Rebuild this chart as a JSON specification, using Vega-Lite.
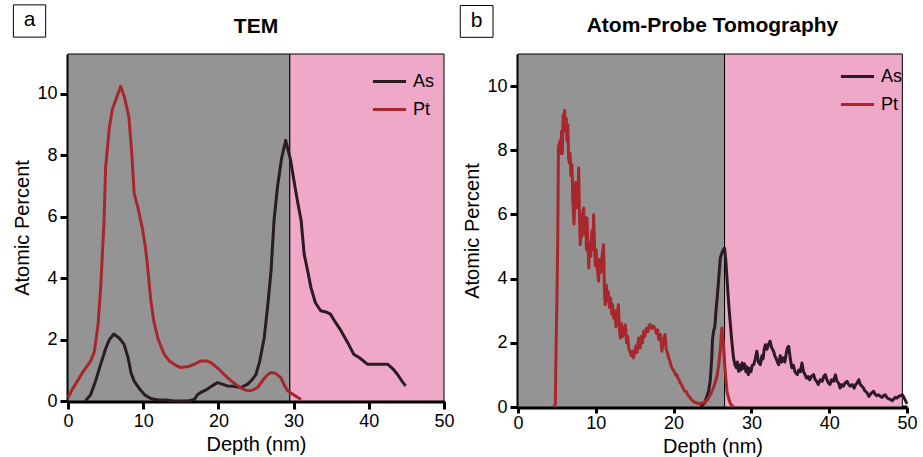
{
  "$schema": "https://vega.github.io/schema/vega-lite/v6.json",
  "background": "white",
  "padding": {"left": 12, "top": 4, "right": 5, "bottom": 5},
  "spacing": 74,
  "bounds": "flush",
  "config": {
    "font": "Liberation Sans",
    "view": {"stroke": null},
    "axis": {
      "grid": false,
      "domainColor": "black",
      "domainWidth": 4,
      "tickColor": "black",
      "tickWidth": 3,
      "tickSize": 8,
      "labelFontSize": 18,
      "labelColor": "black",
      "labelPadding": 3,
      "labelFlush": false,
      "titleFontSize": 20,
      "titleFontWeight": "normal",
      "titleColor": "black",
      "titlePadding": 4
    },
    "legend": {
      "orient": "top-right",
      "offset": 9,
      "padding": 0,
      "title": null,
      "symbolType": "stroke",
      "symbolSize": 1100,
      "symbolStrokeWidth": 3,
      "labelFontSize": 18,
      "labelColor": "black",
      "labelOffset": 5,
      "rowPadding": -4
    }
  },
  "resolve": {"scale": {"color": "independent", "fill": "independent"}, "legend": {"color": "independent"}},
  "datasets": {
    "regions_tem": [
      {"layer": "Si", "start": 0, "end": 29.5},
      {"layer": "SiO2", "start": 29.5, "end": 50}
    ],
    "regions_apt": [
      {"layer": "Si", "start": 0, "end": 26.55},
      {"layer": "SiO2", "start": 26.55, "end": 49.4}
    ],
    "tem": [
      {"element": "As", "depth": 2.3, "pct": 0},
      {"element": "As", "depth": 3, "pct": 0.2},
      {"element": "As", "depth": 3.6, "pct": 0.6},
      {"element": "As", "depth": 4.35, "pct": 1.2},
      {"element": "As", "depth": 5, "pct": 1.7},
      {"element": "As", "depth": 5.5, "pct": 2.0},
      {"element": "As", "depth": 6.1, "pct": 2.18},
      {"element": "As", "depth": 6.8, "pct": 2.05},
      {"element": "As", "depth": 7.45, "pct": 1.85},
      {"element": "As", "depth": 8, "pct": 1.4},
      {"element": "As", "depth": 8.4, "pct": 0.9},
      {"element": "As", "depth": 8.8, "pct": 0.65},
      {"element": "As", "depth": 9.5, "pct": 0.4},
      {"element": "As", "depth": 10.2, "pct": 0.2},
      {"element": "As", "depth": 11, "pct": 0.08},
      {"element": "As", "depth": 12, "pct": 0.03},
      {"element": "As", "depth": 13, "pct": 0.03},
      {"element": "As", "depth": 14, "pct": 0},
      {"element": "As", "depth": 16, "pct": 0},
      {"element": "As", "depth": 16.8, "pct": 0.05},
      {"element": "As", "depth": 17.2, "pct": 0.2},
      {"element": "As", "depth": 17.8, "pct": 0.3},
      {"element": "As", "depth": 18.5, "pct": 0.38},
      {"element": "As", "depth": 19.2, "pct": 0.5},
      {"element": "As", "depth": 19.9, "pct": 0.6},
      {"element": "As", "depth": 20.5, "pct": 0.55},
      {"element": "As", "depth": 21.2, "pct": 0.49},
      {"element": "As", "depth": 22, "pct": 0.48},
      {"element": "As", "depth": 23, "pct": 0.44},
      {"element": "As", "depth": 23.9, "pct": 0.55},
      {"element": "As", "depth": 24.5, "pct": 0.7},
      {"element": "As", "depth": 25, "pct": 0.87},
      {"element": "As", "depth": 25.5, "pct": 1.3},
      {"element": "As", "depth": 26.1, "pct": 2.07},
      {"element": "As", "depth": 26.6, "pct": 3.2},
      {"element": "As", "depth": 27, "pct": 4.24},
      {"element": "As", "depth": 27.4, "pct": 5.88},
      {"element": "As", "depth": 27.85, "pct": 6.96},
      {"element": "As", "depth": 28.4, "pct": 7.9},
      {"element": "As", "depth": 28.95, "pct": 8.49},
      {"element": "As", "depth": 29.6, "pct": 7.84},
      {"element": "As", "depth": 30.1, "pct": 7.1},
      {"element": "As", "depth": 30.5, "pct": 6.53},
      {"element": "As", "depth": 31, "pct": 5.88},
      {"element": "As", "depth": 31.4, "pct": 4.79},
      {"element": "As", "depth": 31.9, "pct": 4.2},
      {"element": "As", "depth": 32.3, "pct": 3.7},
      {"element": "As", "depth": 32.9, "pct": 3.2},
      {"element": "As", "depth": 33.6, "pct": 2.94},
      {"element": "As", "depth": 34.3, "pct": 2.9},
      {"element": "As", "depth": 34.9, "pct": 2.83},
      {"element": "As", "depth": 35.6, "pct": 2.55},
      {"element": "As", "depth": 36.3, "pct": 2.29},
      {"element": "As", "depth": 37.2, "pct": 1.9},
      {"element": "As", "depth": 38, "pct": 1.52},
      {"element": "As", "depth": 38.8, "pct": 1.4},
      {"element": "As", "depth": 39.8, "pct": 1.2},
      {"element": "As", "depth": 41, "pct": 1.2},
      {"element": "As", "depth": 42.5, "pct": 1.2},
      {"element": "As", "depth": 43.2, "pct": 1.05},
      {"element": "As", "depth": 43.8, "pct": 0.87},
      {"element": "As", "depth": 44.4, "pct": 0.65},
      {"element": "As", "depth": 44.9, "pct": 0.49},
      {"element": "Pt", "depth": 0, "pct": 0.1},
      {"element": "Pt", "depth": 0.5, "pct": 0.35},
      {"element": "Pt", "depth": 1, "pct": 0.55},
      {"element": "Pt", "depth": 2, "pct": 0.95},
      {"element": "Pt", "depth": 3, "pct": 1.3},
      {"element": "Pt", "depth": 3.5, "pct": 1.6},
      {"element": "Pt", "depth": 4, "pct": 2.5},
      {"element": "Pt", "depth": 4.35, "pct": 3.7},
      {"element": "Pt", "depth": 4.8, "pct": 5.9},
      {"element": "Pt", "depth": 5.0, "pct": 7.6},
      {"element": "Pt", "depth": 5.5, "pct": 8.9},
      {"element": "Pt", "depth": 5.9, "pct": 9.5},
      {"element": "Pt", "depth": 6.5, "pct": 9.9},
      {"element": "Pt", "depth": 7.0, "pct": 10.25},
      {"element": "Pt", "depth": 7.5, "pct": 9.9},
      {"element": "Pt", "depth": 8.1, "pct": 9.25},
      {"element": "Pt", "depth": 8.5, "pct": 8.0},
      {"element": "Pt", "depth": 8.8, "pct": 6.75},
      {"element": "Pt", "depth": 9.3, "pct": 6.3},
      {"element": "Pt", "depth": 9.9, "pct": 5.6},
      {"element": "Pt", "depth": 10.3, "pct": 5.0},
      {"element": "Pt", "depth": 10.55, "pct": 4.46},
      {"element": "Pt", "depth": 11, "pct": 3.3},
      {"element": "Pt", "depth": 11.4, "pct": 2.6},
      {"element": "Pt", "depth": 12, "pct": 2.0},
      {"element": "Pt", "depth": 12.8, "pct": 1.52},
      {"element": "Pt", "depth": 13.5, "pct": 1.3},
      {"element": "Pt", "depth": 14.2, "pct": 1.18},
      {"element": "Pt", "depth": 15, "pct": 1.09},
      {"element": "Pt", "depth": 16, "pct": 1.12},
      {"element": "Pt", "depth": 17, "pct": 1.22},
      {"element": "Pt", "depth": 17.6, "pct": 1.3},
      {"element": "Pt", "depth": 18.5, "pct": 1.3},
      {"element": "Pt", "depth": 19, "pct": 1.25},
      {"element": "Pt", "depth": 20, "pct": 1.05},
      {"element": "Pt", "depth": 21.2, "pct": 0.76},
      {"element": "Pt", "depth": 22, "pct": 0.6},
      {"element": "Pt", "depth": 23, "pct": 0.42},
      {"element": "Pt", "depth": 23.9, "pct": 0.33},
      {"element": "Pt", "depth": 24.5, "pct": 0.35},
      {"element": "Pt", "depth": 25.2, "pct": 0.44},
      {"element": "Pt", "depth": 26, "pct": 0.7},
      {"element": "Pt", "depth": 26.5, "pct": 0.85},
      {"element": "Pt", "depth": 27, "pct": 0.93},
      {"element": "Pt", "depth": 27.6, "pct": 0.9},
      {"element": "Pt", "depth": 28.3, "pct": 0.76},
      {"element": "Pt", "depth": 28.8, "pct": 0.5},
      {"element": "Pt", "depth": 29.2, "pct": 0.33},
      {"element": "Pt", "depth": 30, "pct": 0.2},
      {"element": "Pt", "depth": 31, "pct": 0.05}
    ],
    "apt": [
      {"element": "As", "depth": 23.5, "pct": 0},
      {"element": "As", "depth": 24, "pct": 0.13},
      {"element": "As", "depth": 24.3, "pct": 0.35},
      {"element": "As", "depth": 24.5, "pct": 0.5},
      {"element": "As", "depth": 24.7, "pct": 0.8},
      {"element": "As", "depth": 24.9, "pct": 1.5},
      {"element": "As", "depth": 25.0, "pct": 2.1},
      {"element": "As", "depth": 25.14, "pct": 2.36},
      {"element": "As", "depth": 25.3, "pct": 2.5},
      {"element": "As", "depth": 25.45, "pct": 3.0},
      {"element": "As", "depth": 25.6, "pct": 3.4},
      {"element": "As", "depth": 25.8, "pct": 4.0},
      {"element": "As", "depth": 26.0, "pct": 4.64},
      {"element": "As", "depth": 26.2, "pct": 4.8},
      {"element": "As", "depth": 26.4, "pct": 4.9},
      {"element": "As", "depth": 26.55, "pct": 4.95},
      {"element": "As", "depth": 26.7, "pct": 4.6},
      {"element": "As", "depth": 26.86, "pct": 4.02},
      {"element": "As", "depth": 27.0, "pct": 3.5},
      {"element": "As", "depth": 27.15, "pct": 3.0},
      {"element": "As", "depth": 27.3, "pct": 2.57},
      {"element": "As", "depth": 27.5, "pct": 2.0},
      {"element": "As", "depth": 27.7, "pct": 1.53},
      {"element": "As", "depth": 27.9, "pct": 1.3},
      {"element": "As", "depth": 28.1, "pct": 1.22},
      {"element": "As", "depth": 28.2, "pct": 1.4},
      {"element": "As", "depth": 28.36, "pct": 1.11},
      {"element": "As", "depth": 28.5, "pct": 1.3},
      {"element": "As", "depth": 28.65, "pct": 1.15},
      {"element": "As", "depth": 28.8, "pct": 1.37},
      {"element": "As", "depth": 28.95, "pct": 1.2},
      {"element": "As", "depth": 29.1, "pct": 1.35},
      {"element": "As", "depth": 29.3, "pct": 1.1},
      {"element": "As", "depth": 29.45, "pct": 1.25},
      {"element": "As", "depth": 29.6, "pct": 1.01},
      {"element": "As", "depth": 29.8, "pct": 1.2},
      {"element": "As", "depth": 29.95, "pct": 1.1},
      {"element": "As", "depth": 30.1, "pct": 1.3},
      {"element": "As", "depth": 30.3, "pct": 1.32},
      {"element": "As", "depth": 30.5, "pct": 1.5},
      {"element": "As", "depth": 30.7, "pct": 1.74},
      {"element": "As", "depth": 30.9, "pct": 1.4},
      {"element": "As", "depth": 31.15, "pct": 1.32},
      {"element": "As", "depth": 31.35, "pct": 1.6},
      {"element": "As", "depth": 31.5, "pct": 1.5},
      {"element": "As", "depth": 31.65, "pct": 1.8},
      {"element": "As", "depth": 31.8, "pct": 1.94},
      {"element": "As", "depth": 32.0, "pct": 1.8},
      {"element": "As", "depth": 32.2, "pct": 1.95},
      {"element": "As", "depth": 32.4, "pct": 2.05},
      {"element": "As", "depth": 32.6, "pct": 1.85},
      {"element": "As", "depth": 32.85, "pct": 1.74},
      {"element": "As", "depth": 33.0, "pct": 1.6},
      {"element": "As", "depth": 33.2, "pct": 1.5},
      {"element": "As", "depth": 33.35, "pct": 1.4},
      {"element": "As", "depth": 33.5, "pct": 1.32},
      {"element": "As", "depth": 33.7, "pct": 1.6},
      {"element": "As", "depth": 33.9, "pct": 1.4},
      {"element": "As", "depth": 34.1, "pct": 1.53},
      {"element": "As", "depth": 34.3, "pct": 1.4},
      {"element": "As", "depth": 34.5, "pct": 1.7},
      {"element": "As", "depth": 34.65, "pct": 1.85},
      {"element": "As", "depth": 34.8, "pct": 1.89},
      {"element": "As", "depth": 35.0, "pct": 1.5},
      {"element": "As", "depth": 35.2, "pct": 1.22},
      {"element": "As", "depth": 35.4, "pct": 1.3},
      {"element": "As", "depth": 35.6, "pct": 1.1},
      {"element": "As", "depth": 35.9, "pct": 1.01},
      {"element": "As", "depth": 36.1, "pct": 1.15},
      {"element": "As", "depth": 36.3, "pct": 1.1},
      {"element": "As", "depth": 36.5, "pct": 1.37},
      {"element": "As", "depth": 36.7, "pct": 1.1},
      {"element": "As", "depth": 36.9, "pct": 1.0},
      {"element": "As", "depth": 37.1, "pct": 0.9},
      {"element": "As", "depth": 37.3, "pct": 0.95},
      {"element": "As", "depth": 37.5, "pct": 0.85},
      {"element": "As", "depth": 37.7, "pct": 0.95},
      {"element": "As", "depth": 38.0, "pct": 1.01},
      {"element": "As", "depth": 38.2, "pct": 0.85},
      {"element": "As", "depth": 38.4, "pct": 0.8},
      {"element": "As", "depth": 38.6, "pct": 0.7},
      {"element": "As", "depth": 38.85, "pct": 0.85},
      {"element": "As", "depth": 39.1, "pct": 0.8},
      {"element": "As", "depth": 39.3, "pct": 0.95},
      {"element": "As", "depth": 39.5, "pct": 1.01},
      {"element": "As", "depth": 39.7, "pct": 0.85},
      {"element": "As", "depth": 39.9, "pct": 0.75},
      {"element": "As", "depth": 40.1, "pct": 0.7},
      {"element": "As", "depth": 40.3, "pct": 0.85},
      {"element": "As", "depth": 40.55, "pct": 0.8},
      {"element": "As", "depth": 40.8, "pct": 1.0},
      {"element": "As", "depth": 41.0, "pct": 0.8},
      {"element": "As", "depth": 41.2, "pct": 0.75},
      {"element": "As", "depth": 41.4, "pct": 0.59},
      {"element": "As", "depth": 41.6, "pct": 0.7},
      {"element": "As", "depth": 41.8, "pct": 0.65},
      {"element": "As", "depth": 42.05, "pct": 0.75},
      {"element": "As", "depth": 42.3, "pct": 0.8},
      {"element": "As", "depth": 42.5, "pct": 0.7},
      {"element": "As", "depth": 42.7, "pct": 0.65},
      {"element": "As", "depth": 42.95, "pct": 0.7},
      {"element": "As", "depth": 43.2, "pct": 0.59},
      {"element": "As", "depth": 43.4, "pct": 0.7},
      {"element": "As", "depth": 43.6, "pct": 0.75},
      {"element": "As", "depth": 43.8, "pct": 0.85},
      {"element": "As", "depth": 44.0, "pct": 0.7},
      {"element": "As", "depth": 44.2, "pct": 0.65},
      {"element": "As", "depth": 44.4, "pct": 0.59},
      {"element": "As", "depth": 44.6, "pct": 0.5},
      {"element": "As", "depth": 44.85, "pct": 0.45},
      {"element": "As", "depth": 45.1, "pct": 0.33},
      {"element": "As", "depth": 45.3, "pct": 0.4},
      {"element": "As", "depth": 45.5, "pct": 0.45},
      {"element": "As", "depth": 45.7, "pct": 0.49},
      {"element": "As", "depth": 45.9, "pct": 0.4},
      {"element": "As", "depth": 46.1, "pct": 0.35},
      {"element": "As", "depth": 46.35, "pct": 0.38},
      {"element": "As", "depth": 46.6, "pct": 0.33},
      {"element": "As", "depth": 46.8, "pct": 0.3},
      {"element": "As", "depth": 47.0, "pct": 0.36},
      {"element": "As", "depth": 47.2, "pct": 0.38},
      {"element": "As", "depth": 47.4, "pct": 0.3},
      {"element": "As", "depth": 47.6, "pct": 0.26},
      {"element": "As", "depth": 47.9, "pct": 0.23},
      {"element": "As", "depth": 48.1, "pct": 0.2},
      {"element": "As", "depth": 48.3, "pct": 0.25},
      {"element": "As", "depth": 48.5, "pct": 0.3},
      {"element": "As", "depth": 48.7, "pct": 0.28},
      {"element": "As", "depth": 48.9, "pct": 0.32},
      {"element": "As", "depth": 49.1, "pct": 0.35},
      {"element": "As", "depth": 49.4, "pct": 0.38},
      {"element": "As", "depth": 49.6, "pct": 0.3},
      {"element": "As", "depth": 49.8, "pct": 0.2},
      {"element": "As", "depth": 50.0, "pct": 0.1},
      {"element": "Pt", "depth": 4.6, "pct": 0},
      {"element": "Pt", "depth": 4.8, "pct": 0.1},
      {"element": "Pt", "depth": 4.9, "pct": 2},
      {"element": "Pt", "depth": 5.0, "pct": 3.3},
      {"element": "Pt", "depth": 5.1, "pct": 5},
      {"element": "Pt", "depth": 5.2, "pct": 8.1},
      {"element": "Pt", "depth": 5.4, "pct": 8.3},
      {"element": "Pt", "depth": 5.5, "pct": 7.9},
      {"element": "Pt", "depth": 5.6, "pct": 8.6},
      {"element": "Pt", "depth": 5.7, "pct": 7.9},
      {"element": "Pt", "depth": 5.8, "pct": 9.1},
      {"element": "Pt", "depth": 5.9, "pct": 8.9},
      {"element": "Pt", "depth": 6.0, "pct": 9.25},
      {"element": "Pt", "depth": 6.1, "pct": 8.6},
      {"element": "Pt", "depth": 6.2, "pct": 9.0},
      {"element": "Pt", "depth": 6.3, "pct": 8.3},
      {"element": "Pt", "depth": 6.4, "pct": 8.8},
      {"element": "Pt", "depth": 6.5, "pct": 7.75},
      {"element": "Pt", "depth": 6.6, "pct": 7.6},
      {"element": "Pt", "depth": 6.7, "pct": 7.9},
      {"element": "Pt", "depth": 6.8, "pct": 7.2},
      {"element": "Pt", "depth": 6.94, "pct": 7.55},
      {"element": "Pt", "depth": 7.05, "pct": 6.4},
      {"element": "Pt", "depth": 7.2, "pct": 5.7},
      {"element": "Pt", "depth": 7.3, "pct": 6.5},
      {"element": "Pt", "depth": 7.41, "pct": 7.0},
      {"element": "Pt", "depth": 7.5, "pct": 6.2},
      {"element": "Pt", "depth": 7.6, "pct": 6.8},
      {"element": "Pt", "depth": 7.7, "pct": 6.4},
      {"element": "Pt", "depth": 7.8, "pct": 7.45},
      {"element": "Pt", "depth": 7.9, "pct": 6.0},
      {"element": "Pt", "depth": 8.0, "pct": 5.06},
      {"element": "Pt", "depth": 8.1, "pct": 5.8},
      {"element": "Pt", "depth": 8.2, "pct": 5.3},
      {"element": "Pt", "depth": 8.3, "pct": 6.0},
      {"element": "Pt", "depth": 8.45, "pct": 6.2},
      {"element": "Pt", "depth": 8.55, "pct": 5.4},
      {"element": "Pt", "depth": 8.7, "pct": 5.9},
      {"element": "Pt", "depth": 8.8, "pct": 4.9},
      {"element": "Pt", "depth": 8.87, "pct": 5.89},
      {"element": "Pt", "depth": 9.0, "pct": 5.0},
      {"element": "Pt", "depth": 9.1, "pct": 4.33},
      {"element": "Pt", "depth": 9.2, "pct": 5.1},
      {"element": "Pt", "depth": 9.35, "pct": 4.7},
      {"element": "Pt", "depth": 9.5, "pct": 5.5},
      {"element": "Pt", "depth": 9.6, "pct": 4.9},
      {"element": "Pt", "depth": 9.72, "pct": 5.99},
      {"element": "Pt", "depth": 9.85, "pct": 5.0},
      {"element": "Pt", "depth": 9.93, "pct": 4.4},
      {"element": "Pt", "depth": 10.05, "pct": 4.9},
      {"element": "Pt", "depth": 10.2, "pct": 4.3},
      {"element": "Pt", "depth": 10.36, "pct": 3.92},
      {"element": "Pt", "depth": 10.5, "pct": 4.6},
      {"element": "Pt", "depth": 10.65, "pct": 4.2},
      {"element": "Pt", "depth": 10.8, "pct": 4.7},
      {"element": "Pt", "depth": 11.0, "pct": 5.06},
      {"element": "Pt", "depth": 11.1, "pct": 3.7},
      {"element": "Pt", "depth": 11.2, "pct": 3.19},
      {"element": "Pt", "depth": 11.35, "pct": 3.8},
      {"element": "Pt", "depth": 11.5, "pct": 3.3},
      {"element": "Pt", "depth": 11.6, "pct": 3.6},
      {"element": "Pt", "depth": 11.75, "pct": 3.1},
      {"element": "Pt", "depth": 11.9, "pct": 3.4},
      {"element": "Pt", "depth": 12.05, "pct": 2.9},
      {"element": "Pt", "depth": 12.15, "pct": 3.2},
      {"element": "Pt", "depth": 12.3, "pct": 2.77},
      {"element": "Pt", "depth": 12.45, "pct": 3.0},
      {"element": "Pt", "depth": 12.6, "pct": 2.5},
      {"element": "Pt", "depth": 12.75, "pct": 2.9},
      {"element": "Pt", "depth": 12.9, "pct": 3.19},
      {"element": "Pt", "depth": 13.05, "pct": 2.4},
      {"element": "Pt", "depth": 13.15, "pct": 2.15},
      {"element": "Pt", "depth": 13.3, "pct": 2.6},
      {"element": "Pt", "depth": 13.45, "pct": 2.2},
      {"element": "Pt", "depth": 13.6, "pct": 2.4},
      {"element": "Pt", "depth": 13.8, "pct": 2.56},
      {"element": "Pt", "depth": 13.95, "pct": 2.0},
      {"element": "Pt", "depth": 14.1, "pct": 2.2},
      {"element": "Pt", "depth": 14.25, "pct": 1.8},
      {"element": "Pt", "depth": 14.4, "pct": 1.74},
      {"element": "Pt", "depth": 14.55, "pct": 1.6},
      {"element": "Pt", "depth": 14.7, "pct": 1.75},
      {"element": "Pt", "depth": 14.85, "pct": 1.53},
      {"element": "Pt", "depth": 15.0, "pct": 1.7},
      {"element": "Pt", "depth": 15.15, "pct": 1.9},
      {"element": "Pt", "depth": 15.3, "pct": 1.7},
      {"element": "Pt", "depth": 15.5, "pct": 2.15},
      {"element": "Pt", "depth": 15.6, "pct": 1.85},
      {"element": "Pt", "depth": 15.7, "pct": 1.84},
      {"element": "Pt", "depth": 15.85, "pct": 2.2},
      {"element": "Pt", "depth": 16.0, "pct": 2.0},
      {"element": "Pt", "depth": 16.15, "pct": 2.36},
      {"element": "Pt", "depth": 16.3, "pct": 2.2},
      {"element": "Pt", "depth": 16.5, "pct": 2.45},
      {"element": "Pt", "depth": 16.7, "pct": 2.35},
      {"element": "Pt", "depth": 16.85, "pct": 2.55},
      {"element": "Pt", "depth": 17.0, "pct": 2.57},
      {"element": "Pt", "depth": 17.2, "pct": 2.45},
      {"element": "Pt", "depth": 17.4, "pct": 2.52},
      {"element": "Pt", "depth": 17.6, "pct": 2.46},
      {"element": "Pt", "depth": 17.8, "pct": 2.3},
      {"element": "Pt", "depth": 17.95, "pct": 2.4},
      {"element": "Pt", "depth": 18.1, "pct": 2.1},
      {"element": "Pt", "depth": 18.3, "pct": 2.26},
      {"element": "Pt", "depth": 18.5, "pct": 1.74},
      {"element": "Pt", "depth": 18.7, "pct": 2.1},
      {"element": "Pt", "depth": 18.9, "pct": 2.26},
      {"element": "Pt", "depth": 19.05, "pct": 1.8},
      {"element": "Pt", "depth": 19.2, "pct": 1.7},
      {"element": "Pt", "depth": 19.36, "pct": 1.53},
      {"element": "Pt", "depth": 19.5, "pct": 1.45},
      {"element": "Pt", "depth": 19.65, "pct": 1.3},
      {"element": "Pt", "depth": 19.8, "pct": 1.22},
      {"element": "Pt", "depth": 19.95, "pct": 1.15},
      {"element": "Pt", "depth": 20.1, "pct": 1.1},
      {"element": "Pt", "depth": 20.25, "pct": 1.0},
      {"element": "Pt", "depth": 20.4, "pct": 1.01},
      {"element": "Pt", "depth": 20.55, "pct": 0.9},
      {"element": "Pt", "depth": 20.7, "pct": 0.85},
      {"element": "Pt", "depth": 20.85, "pct": 0.75},
      {"element": "Pt", "depth": 21.0, "pct": 0.7},
      {"element": "Pt", "depth": 21.2, "pct": 0.6},
      {"element": "Pt", "depth": 21.4, "pct": 0.5},
      {"element": "Pt", "depth": 21.55, "pct": 0.5},
      {"element": "Pt", "depth": 21.7, "pct": 0.44},
      {"element": "Pt", "depth": 21.9, "pct": 0.35},
      {"element": "Pt", "depth": 22.1, "pct": 0.3},
      {"element": "Pt", "depth": 22.3, "pct": 0.23},
      {"element": "Pt", "depth": 22.5, "pct": 0.18},
      {"element": "Pt", "depth": 22.7, "pct": 0.15},
      {"element": "Pt", "depth": 23.0, "pct": 0.13},
      {"element": "Pt", "depth": 23.3, "pct": 0.1},
      {"element": "Pt", "depth": 23.6, "pct": 0.12},
      {"element": "Pt", "depth": 23.85, "pct": 0.13},
      {"element": "Pt", "depth": 24.1, "pct": 0.18},
      {"element": "Pt", "depth": 24.3, "pct": 0.2},
      {"element": "Pt", "depth": 24.5, "pct": 0.28},
      {"element": "Pt", "depth": 24.8, "pct": 0.42},
      {"element": "Pt", "depth": 25.1, "pct": 0.59},
      {"element": "Pt", "depth": 25.4, "pct": 0.8},
      {"element": "Pt", "depth": 25.6, "pct": 1.0},
      {"element": "Pt", "depth": 25.8, "pct": 1.32},
      {"element": "Pt", "depth": 26.0, "pct": 1.8},
      {"element": "Pt", "depth": 26.2, "pct": 2.46},
      {"element": "Pt", "depth": 26.4, "pct": 2.0},
      {"element": "Pt", "depth": 26.6, "pct": 1.22},
      {"element": "Pt", "depth": 26.86, "pct": 0.49},
      {"element": "Pt", "depth": 27.1, "pct": 0.25},
      {"element": "Pt", "depth": 27.3, "pct": 0.1},
      {"element": "Pt", "depth": 27.7, "pct": 0}
    ]
  },
  "hconcat": [
    {
      "width": 376,
      "height": 347,
      "layer": [
        {
          "data": {"name": "regions_tem"},
          "mark": {"type": "rect", "stroke": "black", "strokeWidth": 1},
          "encoding": {
            "x": {"field": "start", "type": "quantitative", "scale": {"domain": [0, 50], "nice": false},
                  "axis": {"title": "Depth (nm)", "values": [0, 10, 20, 30, 40, 50]}},
            "x2": {"field": "end"},
            "fill": {"field": "layer", "type": "nominal",
                     "scale": {"domain": ["Si", "SiO2"], "range": ["#949494", "#f0a8c8"]}, "legend": null}
          }
        },
        {
          "data": {"name": "tem"},
          "mark": {"type": "line", "strokeWidth": 3, "strokeJoin": "round"},
          "encoding": {
            "x": {"field": "depth", "type": "quantitative"},
            "y": {"field": "pct", "type": "quantitative", "scale": {"domain": [0, 11.3], "nice": false},
                  "axis": {"title": "Atomic Percent", "values": [0, 2, 4, 6, 8, 10]}},
            "color": {"field": "element", "type": "nominal",
                      "scale": {"domain": ["As", "Pt"], "range": ["#2b1b22", "#a8272d"]}}
          }
        },
        {
          "data": {"values": [{}]},
          "mark": {"type": "rect", "fill": "white", "stroke": "black", "strokeWidth": 1},
          "encoding": {
            "x": {"datum": -7.26}, "x2": {"datum": -2.97},
            "y": {"datum": 12.9}, "y2": {"datum": 11.85}
          }
        },
        {
          "data": {"values": [{}]},
          "mark": {"type": "text", "fontSize": 21, "color": "black", "align": "center", "baseline": "middle"},
          "encoding": {
            "x": {"datum": -5.12}, "y": {"datum": 12.4},
            "text": {"value": "a"}
          }
        },
        {
          "data": {"values": [{}]},
          "mark": {"type": "text", "fontSize": 21, "fontWeight": "bold", "color": "black", "align": "center", "baseline": "alphabetic"},
          "encoding": {
            "x": {"datum": 25}, "y": {"datum": 11.98},
            "text": {"value": "TEM"}
          }
        }
      ]
    },
    {
      "width": 389,
      "height": 353,
      "layer": [
        {
          "data": {"name": "regions_apt"},
          "mark": {"type": "rect", "stroke": "black", "strokeWidth": 1},
          "encoding": {
            "x": {"field": "start", "type": "quantitative", "scale": {"domain": [0, 50], "nice": false},
                  "axis": {"title": "Depth (nm)", "values": [0, 10, 20, 30, 40, 50], "tickSize": 6, "labelPadding": 1}},
            "x2": {"field": "end"},
            "fill": {"field": "layer", "type": "nominal",
                     "scale": {"domain": ["Si", "SiO2"], "range": ["#949494", "#f0a8c8"]}, "legend": null}
          }
        },
        {
          "data": {"name": "apt"},
          "mark": {"type": "line", "strokeWidth": 3, "strokeJoin": "round"},
          "encoding": {
            "x": {"field": "depth", "type": "quantitative"},
            "y": {"field": "pct", "type": "quantitative", "scale": {"domain": [0, 11], "nice": false},
                  "axis": {"title": "Atomic Percent", "values": [0, 2, 4, 6, 8, 10]}},
            "color": {"field": "element", "type": "nominal",
                      "scale": {"domain": ["As", "Pt"], "range": ["#2e1a26", "#a8272d"]},
                      "legend": {"offset": 4}}
          }
        },
        {
          "data": {"values": [{}]},
          "mark": {"type": "rect", "fill": "white", "stroke": "black", "strokeWidth": 1},
          "encoding": {
            "x": {"datum": -7.42}, "x2": {"datum": -3.21},
            "y": {"datum": 12.51}, "y2": {"datum": 11.52}
          }
        },
        {
          "data": {"values": [{}]},
          "mark": {"type": "text", "fontSize": 21, "color": "black", "align": "center", "baseline": "middle"},
          "encoding": {
            "x": {"datum": -5.32}, "y": {"datum": 12.03},
            "text": {"value": "b"}
          }
        },
        {
          "data": {"values": [{}]},
          "mark": {"type": "text", "fontSize": 21, "fontWeight": "bold", "color": "black", "align": "center", "baseline": "alphabetic"},
          "encoding": {
            "x": {"datum": 25}, "y": {"datum": 11.67},
            "text": {"value": "Atom-Probe Tomography"}
          }
        }
      ]
    }
  ]
}
